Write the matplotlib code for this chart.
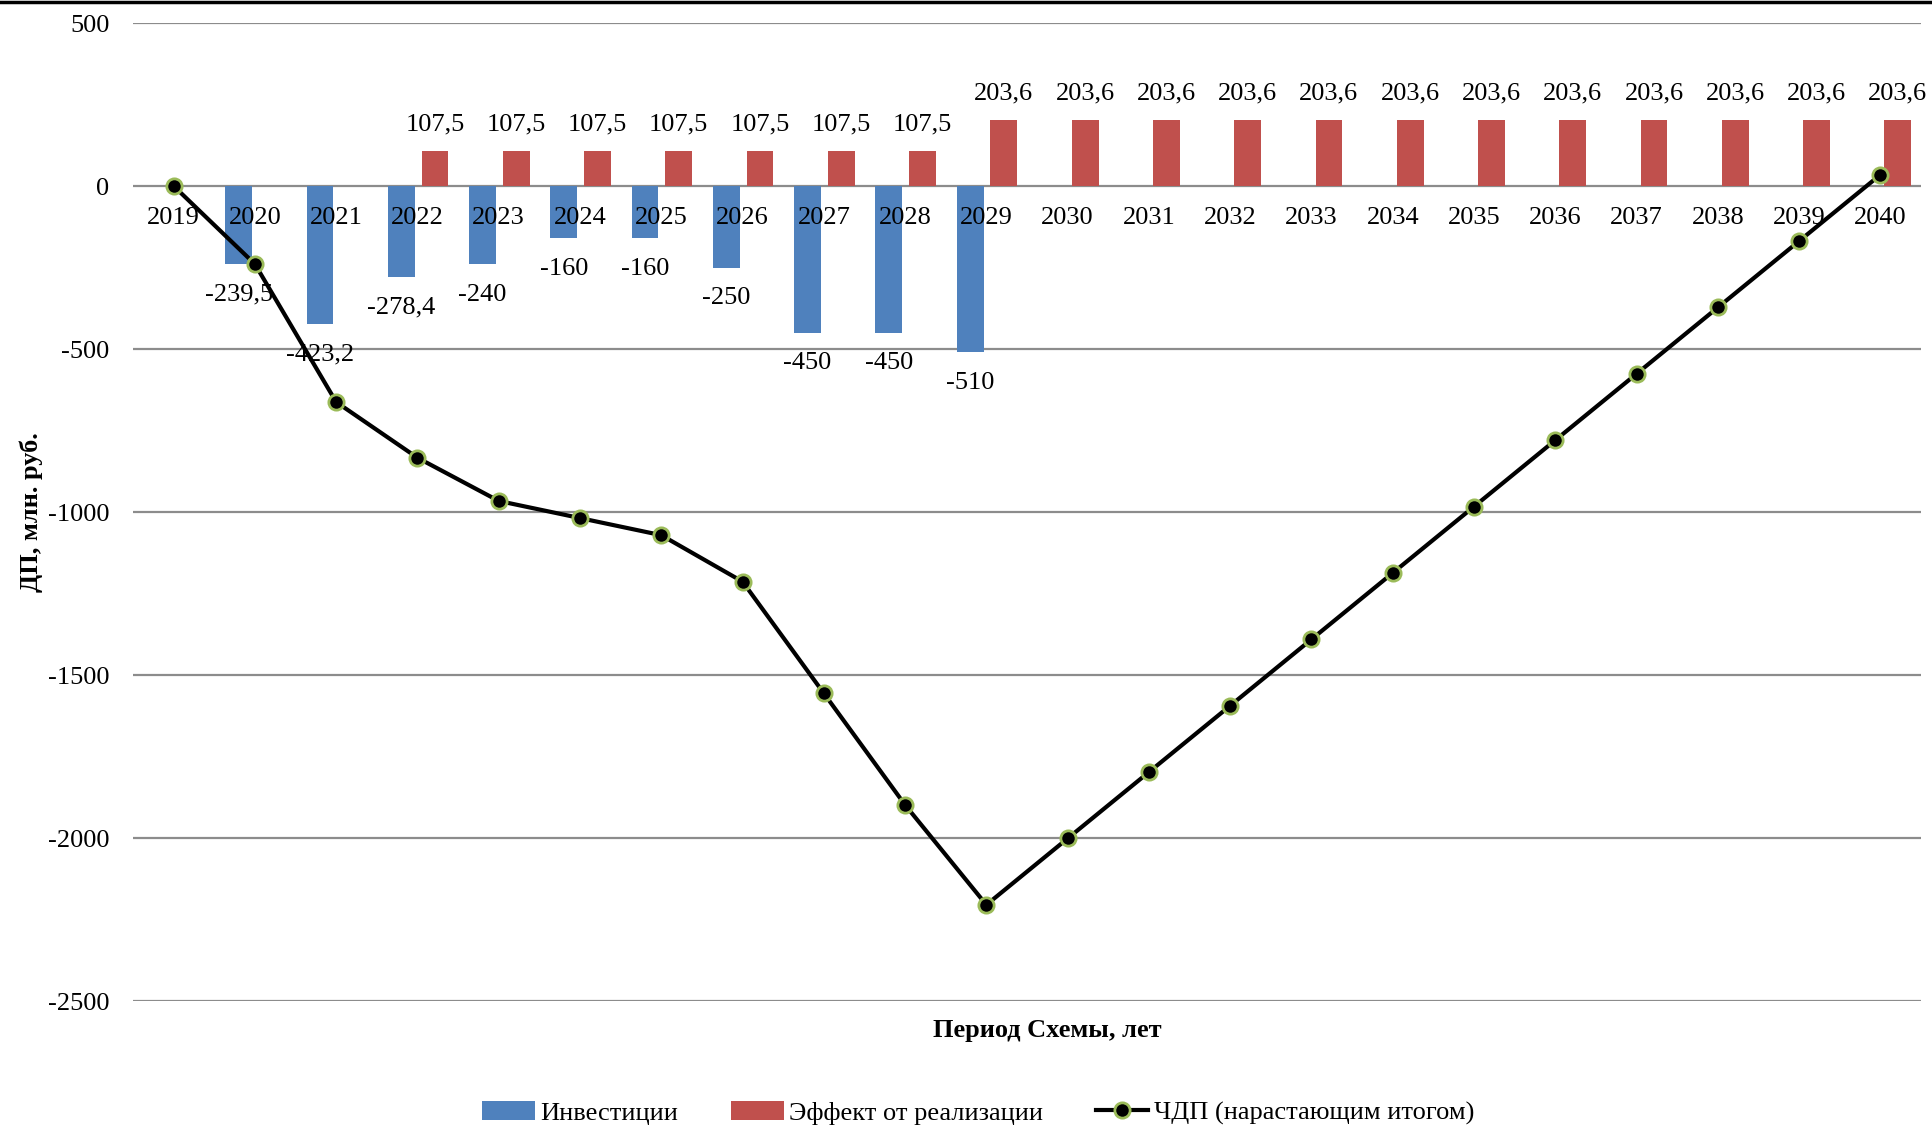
import numpy as np
import matplotlib
matplotlib.use("Agg")
import matplotlib.pyplot as plt
from matplotlib.lines import Line2D
from matplotlib.patches import Patch

plt.rcParams["font.family"] = ["Liberation Serif", "DejaVu Serif"]

years = [str(y) for y in range(2019, 2041)]
investments = [np.nan, -239.5, -423.2, -278.4, -240, -160, -160, -250, -450, -450, -510,
               np.nan, np.nan, np.nan, np.nan, np.nan, np.nan, np.nan, np.nan, np.nan, np.nan, np.nan]
effect = [np.nan, np.nan, np.nan, 107.5, 107.5, 107.5, 107.5, 107.5, 107.5, 107.5,
          203.6, 203.6, 203.6, 203.6, 203.6, 203.6, 203.6, 203.6, 203.6, 203.6, 203.6, 203.6]
cumulative = [0, -239.5, -662.7, -833.6, -966.1, -1018.6, -1071.1, -1213.6, -1556.1, -1898.6,
              -2205.0, -2001.4, -1797.8, -1594.2, -1390.6, -1187.0, -983.4, -779.8, -576.2,
              -372.6, -169.0, 34.6]
y_ticks = [500, 0, -500, -1000, -1500, -2000, -2500]

BLUE = "#4F81BD"
RED = "#C0504D"
GRID = "#8C8C8C"
FS = 19

W, H = 1933, 1130
fig = plt.figure(figsize=(W / 100, H / 100), dpi=100)
ax = fig.add_axes([133 / W, 1 - 1001 / H, (1921 - 133) / W, (1001 - 23) / H])

x = np.arange(len(years))
bw = 0.33
inv = np.array(investments, dtype=float)
eff = np.array(effect, dtype=float)
ax.bar(x - 0.2, inv, width=bw, color=BLUE, zorder=2)
ax.bar(x + 0.215, eff, width=bw, color=RED, zorder=2)
ax.plot(x, cumulative, color="black", lw=3, marker="o", markersize=11,
        markerfacecolor="black", markeredgecolor="#9BBB59", markeredgewidth=2, zorder=4)

def fmt(v):
    s = f"{v:g}"
    return s.replace(".", ",")

for xi, v in zip(x, inv):
    if not np.isnan(v):
        ax.annotate(fmt(v), (xi - 0.2, v), xytext=(0, -22), textcoords="offset points",
                    ha="center", va="center", fontsize=FS, zorder=5)
for xi, v in zip(x, eff):
    if not np.isnan(v):
        ax.annotate(fmt(v), (xi + 0.215, v), xytext=(0, 19), textcoords="offset points",
                    ha="center", va="center", fontsize=FS, zorder=5)

# category labels sit just under the zero line
for xi, lab in zip(x, years):
    ax.annotate(lab, (xi, 0), xytext=(0, -23), textcoords="offset points",
                ha="center", va="center", fontsize=FS, zorder=3)

ax.set_xlim(-0.5, len(years) - 0.5)
ax.set_ylim(-2500, 500)
ax.set_xticks([])
ax.set_yticks(y_ticks)
ax.set_yticklabels([str(t) for t in y_ticks], fontsize=FS)
ax.tick_params(axis="y", length=0, pad=17)
for s in ax.spines.values():
    s.set_visible(False)
for t in y_ticks:
    ax.axhline(t, color=GRID, lw=1.6, zorder=1)

fig.text(31 / W, 1 - 512 / H, "ДП, млн. руб.", rotation=90, ha="center", va="center",
         fontsize=FS, fontweight="bold")
fig.text(1047 / W, 1 - 1031 / H, "Период Схемы, лет", ha="center", va="center",
         fontsize=FS, fontweight="bold")

handles = [
    Patch(facecolor=BLUE, edgecolor="none"),
    Patch(facecolor=RED, edgecolor="none"),
    Line2D([], [], color="black", lw=3, marker="o", markersize=11, markerfacecolor="black",
           markeredgecolor="#9BBB59", markeredgewidth=2),
]
labels = ["Инвестиции", "Эффект от реализации", "ЧДП (нарастающим итогом)"]
fig.legend(handles, labels, loc="center", bbox_to_anchor=(978 / W, 1 - 1113 / H), ncol=3,
           frameon=False, fontsize=FS, handlelength=2.0, handleheight=0.7,
           handletextpad=0.2, columnspacing=2.0, borderaxespad=0)

fig.add_artist(Line2D([0, 1], [1 - 1.5 / H, 1 - 1.5 / H], color="black", lw=2.5,
                      transform=fig.transFigure))

fig.savefig("out.png", dpi=100, facecolor="white")
